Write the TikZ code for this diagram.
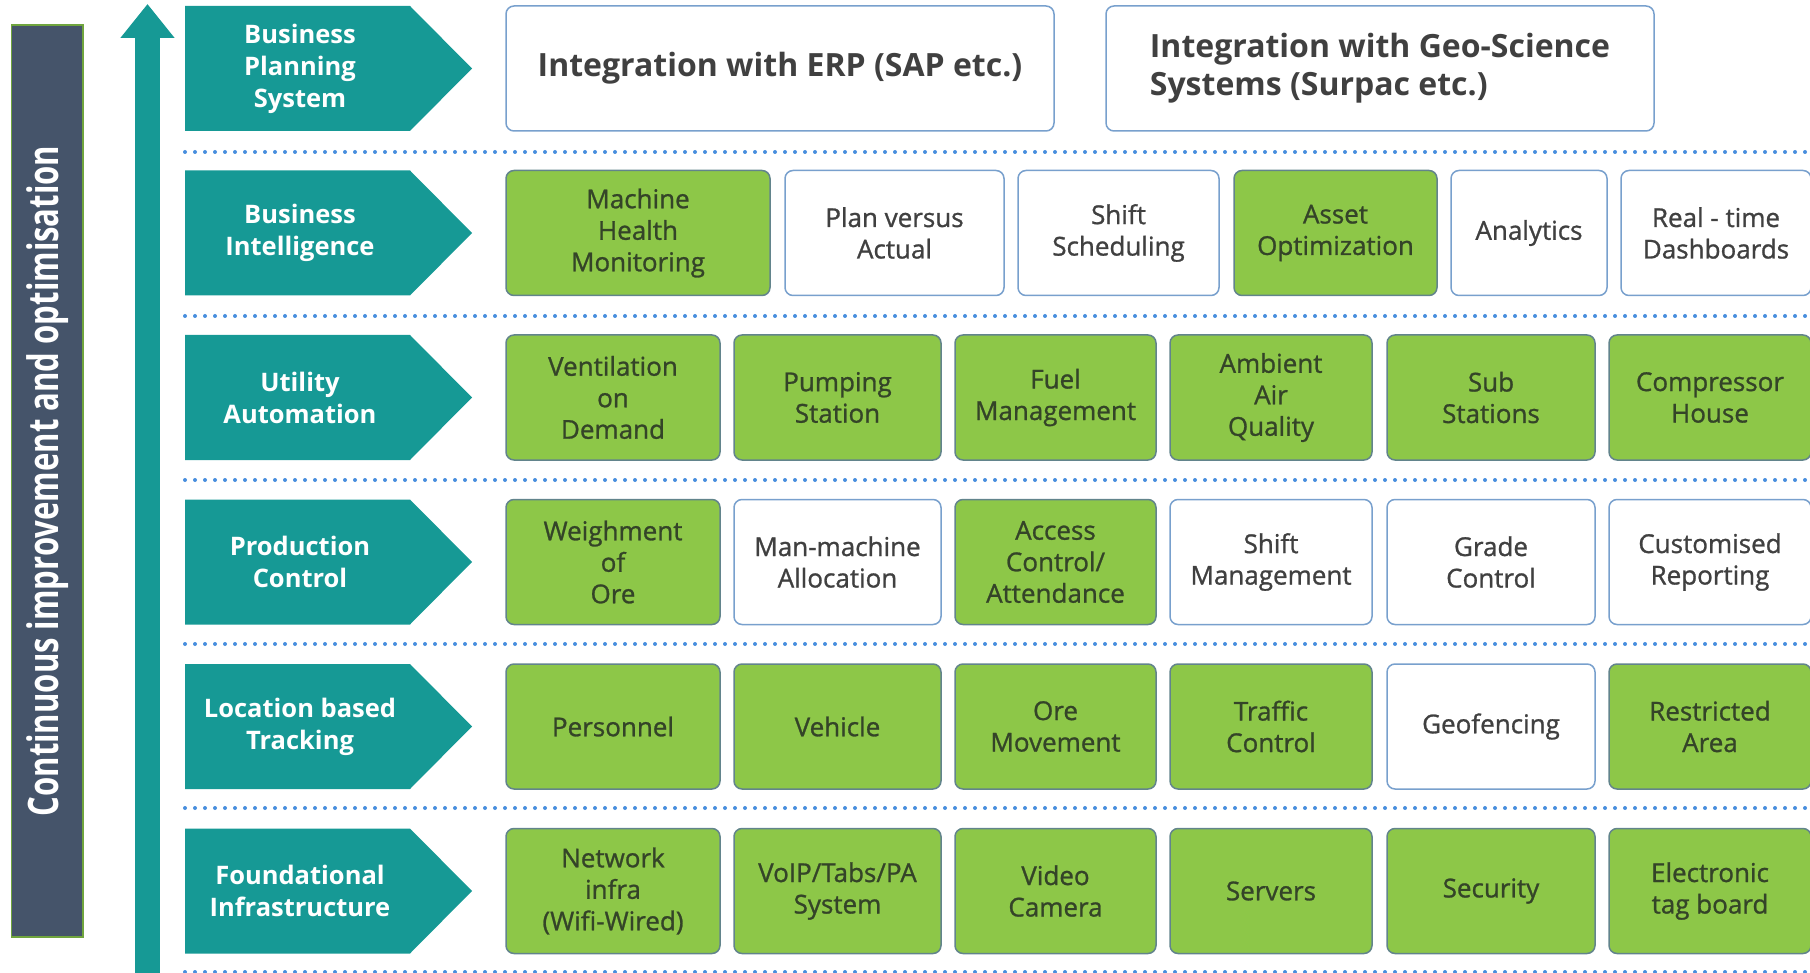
\documentclass[tikz,border=0pt]{standalone}
\usepackage{fontspec}
\setmainfont{Open Sans}
\newfontfamily\narrowfont{Open Sans}[FakeStretch=0.74]
\newfontface\boxfont{Open Sans}[FakeBold=1]
\usetikzlibrary{arrows.meta}

\definecolor{lvlteal}{RGB}{22,153,149}
\definecolor{slate}{RGB}{69,84,106}
\definecolor{slateline}{RGB}{112,165,62}
\definecolor{boxgreen}{RGB}{141,199,72}
\definecolor{gboxline}{RGB}{98,132,140}
\definecolor{gboxtext}{RGB}{52,68,40}
\definecolor{wboxline}{RGB}{120,160,205}
\definecolor{wboxtext}{RGB}{64,64,64}
\definecolor{dotblue}{RGB}{72,142,222}

% one teal chevron per layer: name, centre y, text
\newcommand{\layerchevron}[3]{%
  \fill[lvlteal] (185,{#2-62.5}) -- (410,{#2-62.5}) -- (472,#2)
     -- (410,{#2+62.5}) -- (185,{#2+62.5}) -- cycle;
  \node[lvltext] (#1) at (300,#2) {#3};}

\begin{document}
\begin{tikzpicture}
  [x=1pt,y=-1pt,
   lvltext/.style={text=white,align=center,font=\fontsize{25.5}{32}\selectfont\bfseries},
   box/.style={rounded corners=8pt,minimum height=125pt,inner sep=0pt,align=center,
               line width=1.5pt,font=\boxfont\fontsize{26}{31.5}\selectfont},
   gbox/.style={box,fill=boxgreen,draw=gboxline,text=gboxtext},
   wbox/.style={box,fill=white,draw=wboxline,text=wboxtext},
   topbox/.style={wbox,font=\fontsize{32}{38}\selectfont\bfseries,text=wboxtext},
   sep/.style={draw=dotblue,line width=4pt,line cap=round,dash pattern=on 0pt off 10pt},
   sidebar/.style={fill=slate,draw=slateline,line width=1.5pt,text=white,
               font=\narrowfont\bfseries\fontsize{42}{44}\selectfont}]
  \useasboundingbox (0,0) rectangle (1810,973);

  \node[sidebar,rotate=90,minimum width=912pt,minimum height=71.5pt] (cip) at (47.25,481)
       {Continuous improvement and optimisation};

  \coordinate (arrowfoot) at (147.5,975);
  \coordinate (arrowtip) at (147.5,4);
  \draw[lvlteal,line width=25pt,-{Triangle[width=52pt,length=34pt]}] (arrowfoot) -- (arrowtip);

  \foreach \y in {152,316,480,644,808,972}
    \draw[sep] (185,\y) -- (1810,\y);

  \layerchevron{bps}{68.5}{Business\\Planning\\System}
  \layerchevron{bi}{233}{Business\\Intelligence}
  \layerchevron{ua}{397.5}{Utility\\Automation}
  \layerchevron{pc}{562}{Production\\Control}
  \layerchevron{lbt}{726.5}{Location based\\Tracking}
  \layerchevron{fi}{891}{Foundational\\Infrastructure}

  % business planning
  \node[topbox,minimum width=548pt] (erp) at (780,68.5) {Integration with ERP (SAP etc.)};
  \node[topbox,minimum width=548pt,align=left] (geo) at (1380,68.5)
       {Integration with Geo-Science\\Systems (Surpac etc.)};

  % business intelligence
  \node[gbox,minimum width=264pt] (mhm) at (638,233) {Machine\\Health\\Monitoring};
  \node[wbox,minimum width=219pt] (pva) at (894.5,233) {Plan versus\\Actual};
  \node[wbox,minimum width=201pt] (ssch) at (1118.5,233) {Shift\\Scheduling};
  \node[gbox,minimum width=203pt] (asset) at (1335.5,233) {Asset\\Optimization};
  \node[wbox,minimum width=156pt] (anl) at (1529,233) {Analytics};
  \node[wbox,minimum width=190pt] (rtd) at (1716,233) {Real - time\\Dashboards};

  % utility automation
  \node[gbox,minimum width=214pt] (vod) at (613,397.5) {Ventilation\\on\\Demand};
  \node[gbox,minimum width=207pt] (pump) at (837.5,397.5) {Pumping\\Station};
  \node[gbox,minimum width=201pt] (fuel) at (1055.5,397.5) {Fuel\\Management};
  \node[gbox,minimum width=202pt] (aaq) at (1271,397.5) {Ambient\\Air\\Quality};
  \node[gbox,minimum width=208pt] (subst) at (1491,397.5) {Sub\\Stations};
  \node[gbox,minimum width=202pt] (comp) at (1710,397.5) {Compressor\\House};

  % production control
  \node[gbox,minimum width=214pt] (woo) at (613,562) {Weighment\\of\\Ore};
  \node[wbox,minimum width=207pt] (mma) at (837.5,562) {Man-machine\\Allocation};
  \node[gbox,minimum width=201pt] (acc) at (1055.5,562) {Access\\Control/\\Attendance};
  \node[wbox,minimum width=202pt] (smgmt) at (1271,562) {Shift\\Management};
  \node[wbox,minimum width=208pt] (grade) at (1491,562) {Grade\\Control};
  \node[wbox,minimum width=202pt] (crep) at (1710,562) {Customised\\Reporting};

  % location based tracking
  \node[gbox,minimum width=214pt] (pers) at (613,726.5) {Personnel};
  \node[gbox,minimum width=207pt] (veh) at (837.5,726.5) {Vehicle};
  \node[gbox,minimum width=201pt] (orem) at (1055.5,726.5) {Ore\\Movement};
  \node[gbox,minimum width=202pt] (traf) at (1271,726.5) {Traffic\\Control};
  \node[wbox,minimum width=208pt] (geof) at (1491,726.5) {Geofencing};
  \node[gbox,minimum width=202pt] (rarea) at (1710,726.5) {Restricted\\Area};

  % foundational infrastructure
  \node[gbox,minimum width=214pt] (net) at (613,891) {Network\\infra\\(Wifi-Wired)};
  \node[gbox,minimum width=207pt] (voip) at (837.5,891) {VoIP/Tabs/PA\\System};
  \node[gbox,minimum width=201pt] (vcam) at (1055.5,891) {Video\\Camera};
  \node[gbox,minimum width=202pt] (serv) at (1271,891) {Servers};
  \node[gbox,minimum width=208pt] (sec) at (1491,891) {Security};
  \node[gbox,minimum width=202pt] (etag) at (1710,891) {Electronic\\tag board};
\end{tikzpicture}
\end{document}
